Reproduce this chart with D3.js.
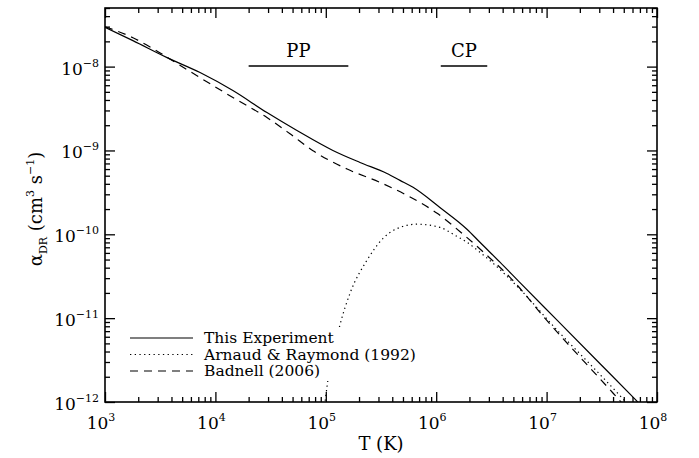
<!DOCTYPE html>
<html>
<head>
<meta charset="utf-8">
<script src="https://d3js.org/d3.v7.min.js"></script>
<style>
  body { margin: 0; background: #fff; }
  text { font-family: "DejaVu Serif", serif; fill: #000; }
  .tick line { stroke: #000; stroke-width: 1.3px; }
  .curve { fill: none; stroke: #000; stroke-width: 1.2px; }
</style>
</head>
<body>
<svg width="699" height="458"></svg>
<script>
// Readings: T in K, alpha_DR in cm^3 s^-1
var tExp = [1e3, 1.79e3, 3.65e3, 7.26e3, 1.44e4, 2.93e4, 5.48e4, 1.16e5, 2.04e5, 3.58e5, 4.70e5, 6.17e5, 1.08e6, 1.90e6, 2.49e6, 3.78e6, 5.74e6, 1.27e7, 3.05e7, 6.32e7, 1e8];
var aExp = [2.94e-8, 2.04e-8, 1.28e-8, 8.49e-9, 5.18e-9, 2.83e-9, 1.73e-9, 1.0e-9, 7.19e-10, 5.32e-10, 4.40e-10, 3.63e-10, 2.09e-10, 1.15e-10, 8.03e-11, 4.65e-11, 2.65e-11, 9.2e-12, 2.86e-12, 1.08e-12, 5.8e-13];

var tAR = [9.64e4, 1.03e5, 1.35e5, 1.66e5, 2.36e5, 3.30e5, 4.70e5, 6.70e5, 1.08e6, 1.48e6, 1.90e6, 2.49e6, 3.27e6, 4.38e6, 5.74e6, 1.32e7, 2.47e7, 4.92e7, 5.94e7];
var aAR = [8.0e-13, 1.59e-12, 8.49e-12, 1.99e-11, 4.9e-11, 8.95e-11, 1.21e-10, 1.32e-10, 1.21e-10, 9.73e-11, 8.03e-11, 6.11e-11, 4.52e-11, 3.16e-11, 2.21e-11, 6.62e-12, 2.83e-12, 1.09e-12, 8.3e-13];

var tBad = [1e3, 1.79e3, 2.72e3, 4.49e3, 7.26e3, 1.44e4, 2.93e4, 4.74e4, 7.66e4, 1.56e5, 3.10e5, 5.45e5, 1.02e6, 1.71e6, 2.88e6, 4.66e6, 1e7, 3.99e7, 5.69e7];
var aBad = [2.99e-8, 2.21e-8, 1.64e-8, 1.09e-8, 7.39e-9, 4.28e-9, 2.47e-9, 1.58e-9, 9.9e-10, 6.0e-10, 4.16e-10, 2.91e-10, 1.78e-10, 1.03e-10, 5.62e-11, 3.07e-11, 9.46e-12, 1.28e-12, 7.6e-13];

var xDecades = [3, 4, 5, 6, 7, 8];
var yDecades = [-12, -11, -10, -9, -8];

var series = [
  { name: "This Experiment", t: tExp, a: aExp, dash: null },
  { name: "Arnaud & Raymond (1992)", t: tAR, a: aAR, dash: "1.3,3.4" },
  { name: "Badnell (2006)", t: tBad, a: aBad, dash: "8,6" }
];

var L = 105, R = 657, T = 8, B = 402;
var svg = d3.select("svg");

var x = d3.scaleLog().domain([1e3, 1e8]).range([L, R]);
var y = d3.scaleLog().domain([1e-12, 5e-8]).range([B, T]);

var xMajor = xDecades.map(function(k) { return Math.pow(10, k); });
var xMinor = [];
xDecades.slice(0, -1).forEach(function(k) {
  for (var m = 2; m <= 9; m++) xMinor.push(m * Math.pow(10, k));
});
var yMajor = yDecades.map(function(k) { return Math.pow(10, k); });
var yMinor = [];
yDecades.forEach(function(k) {
  for (var m = 2; m <= 9; m++) {
    var v = m * Math.pow(10, k);
    if (v <= 5e-8 * 1.0001) yMinor.push(v);
  }
});

// ticks, all pointing inward, on all four sides
function ticks(axis, vals, len, tr) {
  svg.append("g").attr("transform", tr)
    .call(axis.tickValues(vals).tickSize(len).tickFormat(""))
    .call(function(g) { g.select(".domain").remove(); });
}
ticks(d3.axisBottom(x), xMajor, -10, "translate(0," + B + ")");
ticks(d3.axisBottom(x), xMinor, -5, "translate(0," + B + ")");
ticks(d3.axisTop(x), xMajor, -10, "translate(0," + T + ")");
ticks(d3.axisTop(x), xMinor, -5, "translate(0," + T + ")");
ticks(d3.axisLeft(y), yMajor, -10, "translate(" + L + ",0)");
ticks(d3.axisLeft(y), yMinor, -5, "translate(" + L + ",0)");
ticks(d3.axisRight(y), yMajor, -10, "translate(" + R + ",0)");
ticks(d3.axisRight(y), yMinor, -5, "translate(" + R + ",0)");

svg.append("clipPath").attr("id", "clip")
  .append("rect").attr("x", L).attr("y", T).attr("width", R - L).attr("height", B - T);

var line = d3.line()
  .x(function(d) { return x(d[0]); })
  .y(function(d) { return y(d[1]); })
  .curve(d3.curveMonotoneX);

var plot = svg.append("g").attr("clip-path", "url(#clip)");
series.forEach(function(s) {
  plot.append("path")
    .attr("class", "curve")
    .attr("d", line(s.t.map(function(t, i) { return [t, s.a[i]]; })))
    .attr("stroke-dasharray", s.dash);
});

// frame
svg.append("rect").attr("x", L).attr("y", T).attr("width", R - L).attr("height", B - T)
  .attr("fill", "none").attr("stroke", "#000").attr("stroke-width", 1.6);

// tick labels
xDecades.forEach(function(k) {
  var t = svg.append("text").attr("x", x(Math.pow(10, k)) - 4).attr("y", 429)
    .attr("text-anchor", "middle").attr("font-size", 17);
  t.append("tspan").text("10");
  t.append("tspan").attr("dy", -8).attr("font-size", 11).text(k);
});
yDecades.forEach(function(k) {
  var t = svg.append("text").attr("x", 99).attr("y", y(Math.pow(10, k)) + 8)
    .attr("text-anchor", "end").attr("font-size", 17);
  t.append("tspan").text("10");
  t.append("tspan").attr("dy", -8).attr("font-size", 11).text("\u2212" + (-k));
});

// axis titles
svg.append("text").attr("x", (L + R) / 2).attr("y", 450)
  .attr("text-anchor", "middle").attr("font-size", 18).text("T (K)");

var yt = svg.append("text").attr("transform", "translate(42,209) rotate(-90)")
  .attr("text-anchor", "middle").attr("font-size", 18);
yt.append("tspan").text("\u03b1");
yt.append("tspan").attr("dy", 5).attr("font-size", 11).text("DR");
yt.append("tspan").attr("dy", -5).text(" (cm");
yt.append("tspan").attr("dy", -8).attr("font-size", 11).text("3");
yt.append("tspan").attr("dy", 8).text(" s");
yt.append("tspan").attr("dy", -8).attr("font-size", 11).text("\u22121");
yt.append("tspan").attr("dy", 8).text(")");

// regime markers
[["PP", 2e4, 1.6e5], ["CP", 1.1e6, 2.9e6]].forEach(function(r) {
  svg.append("line").attr("x1", x(r[1])).attr("x2", x(r[2])).attr("y1", 66).attr("y2", 66)
    .attr("stroke", "#000").attr("stroke-width", 1.3);
  svg.append("text").attr("x", (x(r[1]) + x(r[2])) / 2).attr("y", 57)
    .attr("text-anchor", "middle").attr("font-size", 18).text(r[0]);
});

// legend (blanked box, as in the original)
var lg = svg.append("g");
lg.append("rect").attr("x", 125).attr("y", 327).attr("width", 295).attr("height", 54).attr("fill", "#fff");
series.forEach(function(s, i) {
  var yy = 338 + i * 16.5;
  lg.append("line").attr("x1", 130).attr("x2", 193).attr("y1", yy).attr("y2", yy)
    .attr("stroke", "#000").attr("stroke-width", 1.2).attr("stroke-dasharray", s.dash);
  lg.append("text").attr("x", 204).attr("y", yy + 5).attr("font-size", 15.5).text(s.name);
});
</script>
</body>
</html>
